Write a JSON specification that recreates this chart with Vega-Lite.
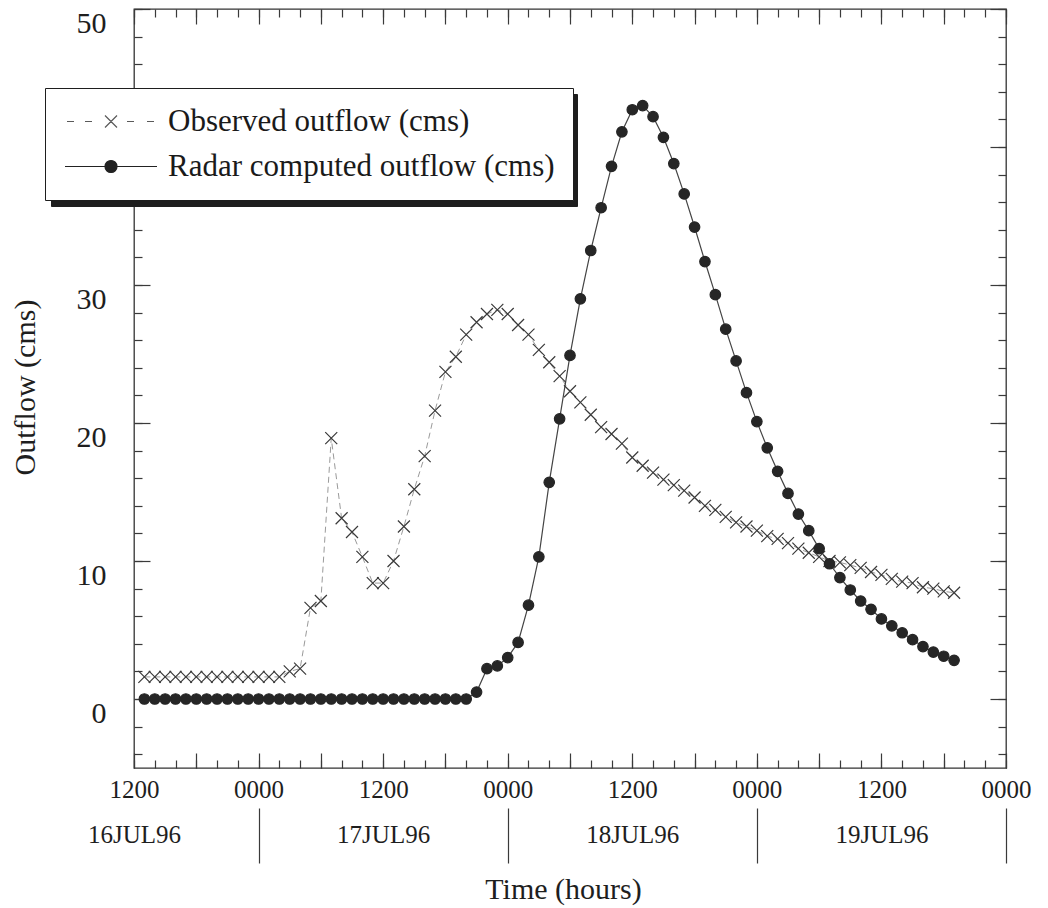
{
  "$schema": "https://vega.github.io/schema/vega-lite/v6.json",
  "width": 872,
  "height": 759,
  "autosize": {"type": "none"},
  "padding": {"left": 134, "top": 9, "right": 42, "bottom": 140},
  "background": "white",
  "data": {
    "values": [
      {"time": "1996-07-16T13:00Z", "Observed outflow (cms)": 1.6, "Radar computed outflow (cms)": 0},
      {"time": "1996-07-16T14:00Z", "Observed outflow (cms)": 1.6, "Radar computed outflow (cms)": 0},
      {"time": "1996-07-16T15:00Z", "Observed outflow (cms)": 1.6, "Radar computed outflow (cms)": 0},
      {"time": "1996-07-16T16:00Z", "Observed outflow (cms)": 1.6, "Radar computed outflow (cms)": 0},
      {"time": "1996-07-16T17:00Z", "Observed outflow (cms)": 1.6, "Radar computed outflow (cms)": 0},
      {"time": "1996-07-16T18:00Z", "Observed outflow (cms)": 1.6, "Radar computed outflow (cms)": 0},
      {"time": "1996-07-16T19:00Z", "Observed outflow (cms)": 1.6, "Radar computed outflow (cms)": 0},
      {"time": "1996-07-16T20:00Z", "Observed outflow (cms)": 1.6, "Radar computed outflow (cms)": 0},
      {"time": "1996-07-16T21:00Z", "Observed outflow (cms)": 1.6, "Radar computed outflow (cms)": 0},
      {"time": "1996-07-16T22:00Z", "Observed outflow (cms)": 1.6, "Radar computed outflow (cms)": 0},
      {"time": "1996-07-16T23:00Z", "Observed outflow (cms)": 1.6, "Radar computed outflow (cms)": 0},
      {"time": "1996-07-17T00:00Z", "Observed outflow (cms)": 1.6, "Radar computed outflow (cms)": 0},
      {"time": "1996-07-17T01:00Z", "Observed outflow (cms)": 1.6, "Radar computed outflow (cms)": 0},
      {"time": "1996-07-17T02:00Z", "Observed outflow (cms)": 1.6, "Radar computed outflow (cms)": 0},
      {"time": "1996-07-17T03:00Z", "Observed outflow (cms)": 2.0, "Radar computed outflow (cms)": 0},
      {"time": "1996-07-17T04:00Z", "Observed outflow (cms)": 2.2, "Radar computed outflow (cms)": 0},
      {"time": "1996-07-17T05:00Z", "Observed outflow (cms)": 6.6, "Radar computed outflow (cms)": 0},
      {"time": "1996-07-17T06:00Z", "Observed outflow (cms)": 7.1, "Radar computed outflow (cms)": 0},
      {"time": "1996-07-17T07:00Z", "Observed outflow (cms)": 18.9, "Radar computed outflow (cms)": 0},
      {"time": "1996-07-17T08:00Z", "Observed outflow (cms)": 13.1, "Radar computed outflow (cms)": 0},
      {"time": "1996-07-17T09:00Z", "Observed outflow (cms)": 12.1, "Radar computed outflow (cms)": 0},
      {"time": "1996-07-17T10:00Z", "Observed outflow (cms)": 10.3, "Radar computed outflow (cms)": 0},
      {"time": "1996-07-17T11:00Z", "Observed outflow (cms)": 8.4, "Radar computed outflow (cms)": 0},
      {"time": "1996-07-17T12:00Z", "Observed outflow (cms)": 8.4, "Radar computed outflow (cms)": 0},
      {"time": "1996-07-17T13:00Z", "Observed outflow (cms)": 10.0, "Radar computed outflow (cms)": 0},
      {"time": "1996-07-17T14:00Z", "Observed outflow (cms)": 12.5, "Radar computed outflow (cms)": 0},
      {"time": "1996-07-17T15:00Z", "Observed outflow (cms)": 15.2, "Radar computed outflow (cms)": 0},
      {"time": "1996-07-17T16:00Z", "Observed outflow (cms)": 17.6, "Radar computed outflow (cms)": 0},
      {"time": "1996-07-17T17:00Z", "Observed outflow (cms)": 20.9, "Radar computed outflow (cms)": 0},
      {"time": "1996-07-17T18:00Z", "Observed outflow (cms)": 23.7, "Radar computed outflow (cms)": 0},
      {"time": "1996-07-17T19:00Z", "Observed outflow (cms)": 24.8, "Radar computed outflow (cms)": 0},
      {"time": "1996-07-17T20:00Z", "Observed outflow (cms)": 26.4, "Radar computed outflow (cms)": 0},
      {"time": "1996-07-17T21:00Z", "Observed outflow (cms)": 27.3, "Radar computed outflow (cms)": 0.5},
      {"time": "1996-07-17T22:00Z", "Observed outflow (cms)": 27.9, "Radar computed outflow (cms)": 2.2},
      {"time": "1996-07-17T23:00Z", "Observed outflow (cms)": 28.2, "Radar computed outflow (cms)": 2.4},
      {"time": "1996-07-18T00:00Z", "Observed outflow (cms)": 27.9, "Radar computed outflow (cms)": 3.0},
      {"time": "1996-07-18T01:00Z", "Observed outflow (cms)": 27.1, "Radar computed outflow (cms)": 4.1},
      {"time": "1996-07-18T02:00Z", "Observed outflow (cms)": 26.4, "Radar computed outflow (cms)": 6.8},
      {"time": "1996-07-18T03:00Z", "Observed outflow (cms)": 25.3, "Radar computed outflow (cms)": 10.3},
      {"time": "1996-07-18T04:00Z", "Observed outflow (cms)": 24.4, "Radar computed outflow (cms)": 15.7},
      {"time": "1996-07-18T05:00Z", "Observed outflow (cms)": 23.4, "Radar computed outflow (cms)": 20.3},
      {"time": "1996-07-18T06:00Z", "Observed outflow (cms)": 22.3, "Radar computed outflow (cms)": 24.9},
      {"time": "1996-07-18T07:00Z", "Observed outflow (cms)": 21.5, "Radar computed outflow (cms)": 29.0},
      {"time": "1996-07-18T08:00Z", "Observed outflow (cms)": 20.6, "Radar computed outflow (cms)": 32.5},
      {"time": "1996-07-18T09:00Z", "Observed outflow (cms)": 19.7, "Radar computed outflow (cms)": 35.6},
      {"time": "1996-07-18T10:00Z", "Observed outflow (cms)": 19.2, "Radar computed outflow (cms)": 38.6},
      {"time": "1996-07-18T11:00Z", "Observed outflow (cms)": 18.5, "Radar computed outflow (cms)": 41.1},
      {"time": "1996-07-18T12:00Z", "Observed outflow (cms)": 17.5, "Radar computed outflow (cms)": 42.7},
      {"time": "1996-07-18T13:00Z", "Observed outflow (cms)": 16.9, "Radar computed outflow (cms)": 43.0},
      {"time": "1996-07-18T14:00Z", "Observed outflow (cms)": 16.4, "Radar computed outflow (cms)": 42.2},
      {"time": "1996-07-18T15:00Z", "Observed outflow (cms)": 15.9, "Radar computed outflow (cms)": 40.7},
      {"time": "1996-07-18T16:00Z", "Observed outflow (cms)": 15.5, "Radar computed outflow (cms)": 38.8},
      {"time": "1996-07-18T17:00Z", "Observed outflow (cms)": 15.1, "Radar computed outflow (cms)": 36.6},
      {"time": "1996-07-18T18:00Z", "Observed outflow (cms)": 14.6, "Radar computed outflow (cms)": 34.2},
      {"time": "1996-07-18T19:00Z", "Observed outflow (cms)": 14.0, "Radar computed outflow (cms)": 31.7},
      {"time": "1996-07-18T20:00Z", "Observed outflow (cms)": 13.7, "Radar computed outflow (cms)": 29.3},
      {"time": "1996-07-18T21:00Z", "Observed outflow (cms)": 13.2, "Radar computed outflow (cms)": 26.8},
      {"time": "1996-07-18T22:00Z", "Observed outflow (cms)": 12.8, "Radar computed outflow (cms)": 24.5},
      {"time": "1996-07-18T23:00Z", "Observed outflow (cms)": 12.5, "Radar computed outflow (cms)": 22.2},
      {"time": "1996-07-19T00:00Z", "Observed outflow (cms)": 12.2, "Radar computed outflow (cms)": 20.1},
      {"time": "1996-07-19T01:00Z", "Observed outflow (cms)": 11.8, "Radar computed outflow (cms)": 18.2},
      {"time": "1996-07-19T02:00Z", "Observed outflow (cms)": 11.6, "Radar computed outflow (cms)": 16.5},
      {"time": "1996-07-19T03:00Z", "Observed outflow (cms)": 11.3, "Radar computed outflow (cms)": 14.9},
      {"time": "1996-07-19T04:00Z", "Observed outflow (cms)": 10.9, "Radar computed outflow (cms)": 13.4},
      {"time": "1996-07-19T05:00Z", "Observed outflow (cms)": 10.6, "Radar computed outflow (cms)": 12.2},
      {"time": "1996-07-19T06:00Z", "Observed outflow (cms)": 10.3, "Radar computed outflow (cms)": 10.9},
      {"time": "1996-07-19T07:00Z", "Observed outflow (cms)": 10.0, "Radar computed outflow (cms)": 9.8},
      {"time": "1996-07-19T08:00Z", "Observed outflow (cms)": 9.9, "Radar computed outflow (cms)": 8.8},
      {"time": "1996-07-19T09:00Z", "Observed outflow (cms)": 9.7, "Radar computed outflow (cms)": 7.9},
      {"time": "1996-07-19T10:00Z", "Observed outflow (cms)": 9.5, "Radar computed outflow (cms)": 7.1},
      {"time": "1996-07-19T11:00Z", "Observed outflow (cms)": 9.2, "Radar computed outflow (cms)": 6.5},
      {"time": "1996-07-19T12:00Z", "Observed outflow (cms)": 9.0, "Radar computed outflow (cms)": 5.8},
      {"time": "1996-07-19T13:00Z", "Observed outflow (cms)": 8.7, "Radar computed outflow (cms)": 5.3},
      {"time": "1996-07-19T14:00Z", "Observed outflow (cms)": 8.5, "Radar computed outflow (cms)": 4.8},
      {"time": "1996-07-19T15:00Z", "Observed outflow (cms)": 8.4, "Radar computed outflow (cms)": 4.3},
      {"time": "1996-07-19T16:00Z", "Observed outflow (cms)": 8.1, "Radar computed outflow (cms)": 3.8},
      {"time": "1996-07-19T17:00Z", "Observed outflow (cms)": 8.0, "Radar computed outflow (cms)": 3.4},
      {"time": "1996-07-19T18:00Z", "Observed outflow (cms)": 7.8, "Radar computed outflow (cms)": 3.1},
      {"time": "1996-07-19T19:00Z", "Observed outflow (cms)": 7.7, "Radar computed outflow (cms)": 2.8}
    ]
  },
  "transform": [
    {"fold": ["Observed outflow (cms)", "Radar computed outflow (cms)"], "as": ["series", "value"]}
  ],
  "layer": [
    {
      "transform": [{"filter": "datum.series === 'Observed outflow (cms)'"}],
      "mark": {"type": "line", "stroke": "#9a9a9a", "strokeWidth": 1, "strokeDash": [6, 4]},
      "encoding": {
        "x": {
          "field": "time", "type": "temporal",
          "scale": {"type": "utc", "domain": [837518400000, 837820800000], "nice": false},
          "axis": {
            "orient": "bottom",
            "values": [837518400000, 837540000000, 837561600000, 837583200000, 837604800000, 837626400000, 837648000000, 837669600000, 837691200000, 837712800000, 837734400000, 837756000000, 837777600000, 837799200000, 837820800000],
            "tickSize": -15,
            "labelExpr": "utchours(datum.value) % 12 == 0 ? utcFormat(datum.value, '%H%M') : ''",
            "labelFontSize": 25, "labelPadding": 24, "labelFlush": false, "labelOverlap": false, "labelBound": false,
            "title": "Time (hours)", "titleFontSize": 30, "titleX": 429, "titleY": 130,
            "titleBaseline": "alphabetic", "titleAlign": "center"
          }
        },
        "y": {
          "field": "value", "type": "quantitative",
          "scale": {"domain": [-5, 50], "nice": false, "zero": false},
          "axis": {
            "orient": "left", "values": [0, 10, 20, 30, 40, 50], "tickSize": -16,
            "labelFontSize": 30, "labelPadding": 44, "labelOffset": 14, "labelOverlap": false,
            "title": "Outflow (cms)", "titleFontSize": 30, "titleX": -100, "titleY": 378,
            "titleBaseline": "alphabetic", "titleAlign": "center", "titleAngle": -90
          }
        }
      }
    },
    {
      "transform": [{"filter": "datum.series === 'Radar computed outflow (cms)'"}],
      "mark": {"type": "line", "stroke": "#444444", "strokeWidth": 1.2},
      "encoding": {
        "x": {
          "field": "time", "type": "temporal",
          "scale": {"type": "utc", "domain": [837518400000, 837820800000], "nice": false},
          "axis": {
            "orient": "bottom",
            "values": [837518400000, 837525600000, 837532800000, 837540000000, 837547200000, 837554400000, 837561600000, 837568800000, 837576000000, 837583200000, 837590400000, 837597600000, 837604800000, 837612000000, 837619200000, 837626400000, 837633600000, 837640800000, 837648000000, 837655200000, 837662400000, 837669600000, 837676800000, 837684000000, 837691200000, 837698400000, 837705600000, 837712800000, 837720000000, 837727200000, 837734400000, 837741600000, 837748800000, 837756000000, 837763200000, 837770400000, 837777600000, 837784800000, 837792000000, 837799200000, 837806400000, 837813600000, 837820800000],
            "tickSize": -8, "labels": false, "title": null
          }
        },
        "y": {
          "field": "value", "type": "quantitative",
          "scale": {"domain": [-5, 50], "nice": false, "zero": false},
          "axis": {"orient": "left", "values": [-4, -2, 0, 2, 4, 6, 8, 10, 12, 14, 16, 18, 20, 22, 24, 26, 28, 30, 32, 34, 36, 38, 40, 42, 44, 46, 48, 50], "tickSize": -8, "labels": false, "title": null}
        }
      }
    },
    {
      "mark": {"type": "point", "opacity": 0},
      "encoding": {
        "x": {
          "field": "time", "type": "temporal",
          "scale": {"type": "utc", "domain": [837518400000, 837820800000], "nice": false},
          "axis": {
            "orient": "top",
            "values": [837518400000, 837525600000, 837532800000, 837540000000, 837547200000, 837554400000, 837561600000, 837568800000, 837576000000, 837583200000, 837590400000, 837597600000, 837604800000, 837612000000, 837619200000, 837626400000, 837633600000, 837640800000, 837648000000, 837655200000, 837662400000, 837669600000, 837676800000, 837684000000, 837691200000, 837698400000, 837705600000, 837712800000, 837720000000, 837727200000, 837734400000, 837741600000, 837748800000, 837756000000, 837763200000, 837770400000, 837777600000, 837784800000, 837792000000, 837799200000, 837806400000, 837813600000, 837820800000],
            "tickSize": -8, "labels": false, "title": null
          }
        },
        "y": {
          "field": "value", "type": "quantitative",
          "scale": {"domain": [-5, 50], "nice": false, "zero": false},
          "axis": {"orient": "right", "values": [-4, -2, 0, 2, 4, 6, 8, 10, 12, 14, 16, 18, 20, 22, 24, 26, 28, 30, 32, 34, 36, 38, 40, 42, 44, 46, 48, 50], "tickSize": -8, "labels": false, "title": null}
        },
        "shape": {
          "field": "series", "type": "nominal",
          "scale": {"range": ["M-1.35,-1.55L47.45,-1.55L47.45,1.55L-1.35,1.55Z", "M-1.35,-1.55L47.45,-1.55L47.45,1.55L-1.35,1.55Z"]},
          "legend": {
            "title": null, "orient": "none", "legendX": -83, "legendY": 85, "direction": "vertical",
            "fillColor": "#1e1e1e", "strokeColor": "#1e1e1e", "padding": 18, "rowPadding": 13,
            "labelFont": "Liberation Serif", "labelFontSize": 31, "labelOffset": 74, "labelLimit": 800,
            "labelExpr": "''",
            "symbolSize": 400, "symbolStrokeWidth": 1.2, "symbolOpacity": 0
          }
        }
      }
    },
    {
      "mark": {"type": "point", "opacity": 0},
      "encoding": {
        "x": {
          "field": "time", "type": "temporal",
          "scale": {"type": "utc", "domain": [837518400000, 837820800000], "nice": false},
          "axis": {
            "orient": "top",
            "values": [837518400000, 837540000000, 837561600000, 837583200000, 837604800000, 837626400000, 837648000000, 837669600000, 837691200000, 837712800000, 837734400000, 837756000000, 837777600000, 837799200000, 837820800000],
            "tickSize": -15, "labels": false, "title": null
          }
        },
        "y": {
          "field": "value", "type": "quantitative",
          "scale": {"domain": [-5, 50], "nice": false, "zero": false},
          "axis": {"orient": "right", "values": [0, 10, 20, 30, 40, 50], "tickSize": -16, "labels": false, "title": null}
        },
        "shape": {
          "field": "series", "type": "nominal",
          "scale": {"range": [
            "M-1.15,0L-0.45,0M0.65,0L1.35,0M2.65,-0.6L3.85,0.6M2.65,0.6L3.85,-0.6M4.85,0L5.55,0M6.85,0L7.55,0",
            "M-1.35,0L7.85,0M3.85,0A0.6,0.6,0,1,1,2.65,0A0.6,0.6,0,1,1,3.85,0Z"
          ]},
          "legend": {
            "title": null, "orient": "none", "legendX": -89, "legendY": 79, "direction": "vertical",
            "fillColor": "white", "strokeColor": "#1e1e1e", "padding": 18, "rowPadding": 13,
            "labelFont": "Liberation Serif", "labelFontSize": 31, "labelOffset": 74, "labelLimit": 800,
            "labelColor": "#1a1a1a", "symbolSize": 400, "symbolStrokeWidth": 1.2, "symbolOpacity": 1
          }
        },
        "fill": {
          "field": "series", "type": "nominal",
          "scale": {"range": ["transparent", "#222222"]},
          "legend": {
            "title": null, "orient": "none", "legendX": -89, "legendY": 79, "direction": "vertical",
            "fillColor": "white", "strokeColor": "#1e1e1e", "padding": 18, "rowPadding": 13,
            "labelFont": "Liberation Serif", "labelFontSize": 31, "labelOffset": 74, "labelLimit": 800,
            "labelColor": "#1a1a1a", "symbolSize": 400, "symbolStrokeWidth": 1.2, "symbolOpacity": 1
          }
        },
        "stroke": {
          "field": "series", "type": "nominal",
          "scale": {"range": ["#5a5a5a", "#222222"]},
          "legend": {
            "title": null, "orient": "none", "legendX": -89, "legendY": 79, "direction": "vertical",
            "fillColor": "white", "strokeColor": "#1e1e1e", "padding": 18, "rowPadding": 13,
            "labelFont": "Liberation Serif", "labelFontSize": 31, "labelOffset": 74, "labelLimit": 800,
            "labelColor": "#1a1a1a", "symbolSize": 400, "symbolStrokeWidth": 1.2, "symbolOpacity": 1
          }
        }
      }
    },
    {
      "mark": {"type": "point", "strokeWidth": 1.2, "opacity": 1},
      "encoding": {
        "x": {
          "field": "time", "type": "temporal",
          "scale": {"type": "utc", "domain": [837518400000, 837820800000], "nice": false},
          "axis": {
            "orient": "bottom", "values": [837518400000, 837604800000, 837691200000, 837777600000], "ticks": false,
            "labelExpr": "upper(utcFormat(datum.value, '%d%b%y'))", "labelFontSize": 25, "labelPadding": 54,
            "labelFlush": false, "labelOverlap": false, "labelBound": false, "title": null
          }
        },
        "y": {
          "field": "value", "type": "quantitative",
          "scale": {"domain": [-5, 50], "nice": false, "zero": false},
          "axis": null
        },
        "shape": {"condition": {"test": "datum.series === 'Radar computed outflow (cms)'", "value": "circle"}, "value": "M-1,-1L1,1M-1,1L1,-1"},
        "fill": {"condition": {"test": "datum.series === 'Radar computed outflow (cms)'", "value": "#262626"}, "value": "transparent"},
        "stroke": {"condition": {"test": "datum.series === 'Radar computed outflow (cms)'", "value": "#262626"}, "value": "#3a3a3a"},
        "size": {"condition": {"test": "datum.series === 'Radar computed outflow (cms)'", "value": 110}, "value": 144}
      }
    },
    {
      "mark": {"type": "point", "opacity": 0},
      "encoding": {
        "x": {
          "field": "time", "type": "temporal",
          "scale": {"type": "utc", "domain": [837518400000, 837820800000], "nice": false},
          "axis": {
            "orient": "bottom", "values": [837561600000, 837648000000, 837734400000, 837820800000],
            "offset": 40, "tickSize": 55, "labels": false, "title": null
          }
        }
      }
    }
  ],
  "resolve": {
    "axis": {"x": "independent", "y": "independent"},
    "scale": {"shape": "independent", "fill": "independent", "stroke": "independent"}
  },
  "config": {
    "font": "Liberation Serif",
    "view": {"stroke": "#333333", "strokeWidth": 1.3},
    "axis": {
      "grid": false, "domain": false,
      "labelFont": "Liberation Serif", "titleFont": "Liberation Serif",
      "labelColor": "#1e1e1e", "titleColor": "#1e1e1e", "titleFontWeight": "normal",
      "tickColor": "#3a3a3a", "tickWidth": 1.2
    }
  }
}
